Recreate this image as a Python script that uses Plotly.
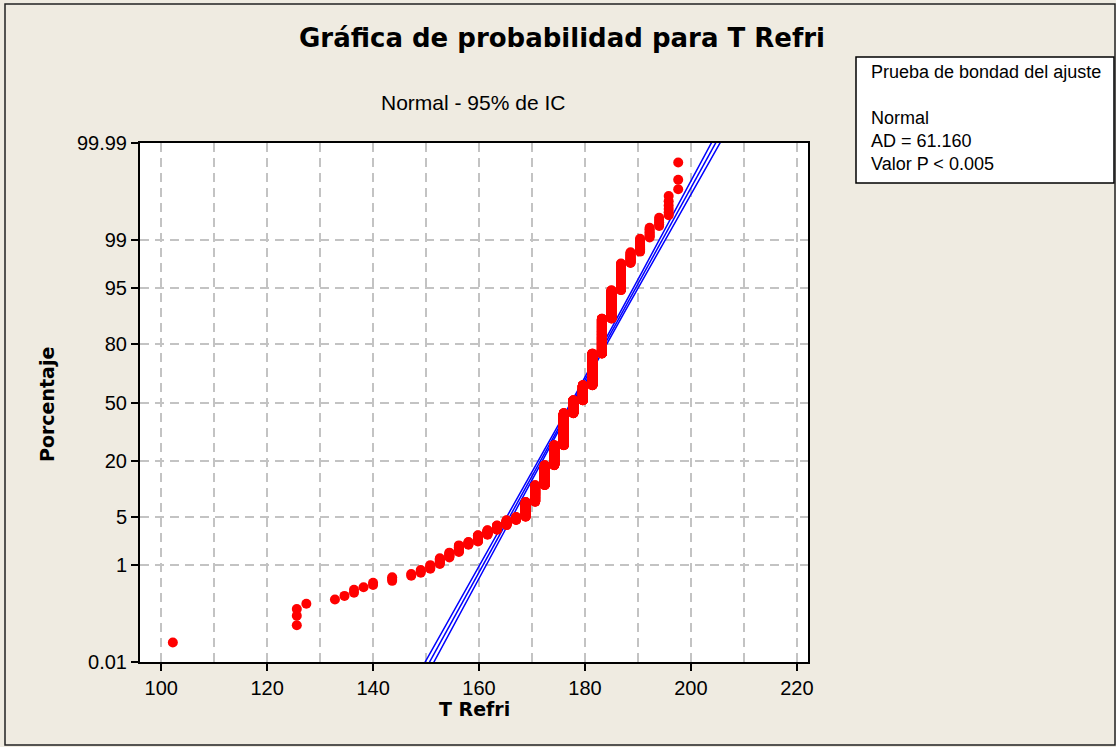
import math
from statistics import NormalDist
import plotly.graph_objects as go

# ---- data (T Refri distinct values and their frequencies) ----
t_values = [102.2, 125.6, 127.4, 132.8, 134.6, 136.4, 138.2, 140.0, 143.6, 147.2, 149.0,
            150.8, 152.6, 154.4, 156.2, 158.0, 159.8, 161.6, 163.4, 165.2, 167.0,
            168.8, 170.6, 172.4, 174.2, 176.0, 177.8, 179.6, 181.4, 183.2, 185.0,
            186.8, 188.6, 190.4, 192.2, 194.0, 195.8, 197.6]
t_counts = [1, 3, 1, 1, 1, 2, 1, 2, 3, 2, 3,
            4, 7, 7, 11, 6, 14, 12, 13, 16, 11,
            64, 98, 159, 206, 405, 177, 204, 386, 305, 146,
            74, 18, 15, 8, 5, 6, 3]
prob_ticks = [0.01, 1, 5, 20, 50, 80, 95, 99, 99.99]
prob_labels = ["0.01", "1", "5", "20", "50", "80", "95", "99", "99.99"]
x_ticks = [100, 120, 140, 160, 180, 200, 220]
ad_value = "61.160"
p_text = "< 0.005"
conf_level = 0.95

nd = NormalDist()

# expand data and compute Minitab median-rank plotting positions
data = []
for v, c in zip(t_values, t_counts):
    data.extend([v] * c)
data.sort()
n = len(data)
zs = [nd.inv_cdf((i - 0.3) / (n + 0.4)) for i in range(1, n + 1)]

mu = sum(data) / n
sigma = math.sqrt(sum((d - mu) ** 2 for d in data) / (n - 1))
zc = nd.inv_cdf(1 - (1 - conf_level) / 2)

zmax = nd.inv_cdf(0.9999)
zgrid = [-4.0 + 8.0 * k / 200 for k in range(201)]
fit_x = [mu + sigma * z for z in zgrid]
half = [zc * sigma * math.sqrt(1.0 / n + z * z / (2.0 * n)) for z in zgrid]
lo_x = [f - h for f, h in zip(fit_x, half)]
hi_x = [f + h for f, h in zip(fit_x, half)]

BLUE = "#0000FF"
RED = "#FF0000"
BG = "#EFEBE1"
GRID = "#C3C3C3"
REG = "Liberation Sans, Arial, sans-serif"
BOLD = "DejaVu Sans, Verdana, sans-serif"

fig = go.Figure()
for xs in (lo_x, fit_x, hi_x):
    fig.add_trace(go.Scatter(x=xs, y=zgrid, mode="lines",
                             line=dict(color=BLUE, width=1.5),
                             hoverinfo="skip", showlegend=False))
fig.add_trace(go.Scatter(x=data, y=zs, mode="markers",
                         marker=dict(color=RED, size=10, line=dict(width=0)),
                         showlegend=False))

# plot area in pixels
L, R, T, B = 140, 808, 143, 662
W, H = 1116, 747


def px(xp):
    return (xp - L) / (R - L)


def py(yp):
    return (B - yp) / (B - T)


fig.update_layout(
    width=W, height=H,
    margin=dict(l=L, r=W - R, t=T, b=H - B, pad=0),
    paper_bgcolor=BG, plot_bgcolor="white",
    showlegend=False,
    font=dict(family=REG, color="black", size=18),
)
fig.update_xaxes(
    range=[96, 222.1], tickvals=x_ticks, ticktext=[str(v) for v in x_ticks],
    showline=True, mirror=True, linecolor="black", linewidth=2,
    ticks="outside", ticklen=7, tickwidth=1.5, tickcolor="black",
    tickfont=dict(family=REG, size=20),
    showgrid=True, gridcolor=GRID, gridwidth=1.5, griddash="9px,6px",
    minor=dict(dtick=10, tick0=100, showgrid=True, gridcolor=GRID,
               gridwidth=1.5, griddash="9px,6px", ticks=""),
    zeroline=False,
)
fig.update_yaxes(
    range=[-zmax, zmax],
    tickvals=[nd.inv_cdf(p / 100.0) for p in prob_ticks], ticktext=prob_labels,
    showline=True, mirror=True, linecolor="black", linewidth=2,
    ticks="outside", ticklen=7, tickwidth=1.5, tickcolor="black",
    tickfont=dict(family=REG, size=20),
    showgrid=True, gridcolor=GRID, gridwidth=1.5, griddash="9px,6px",
    zeroline=False,
)

ann = []
ann.append(dict(text="<b>Gráfica de probabilidad para T Refri</b>", x=px(562), y=py(38),
                xref="paper", yref="paper", showarrow=False, xanchor="center", yanchor="middle",
                font=dict(family=BOLD, size=26)))
ann.append(dict(text="Normal - 95% de IC", x=px(473), y=py(103),
                xref="paper", yref="paper", showarrow=False, xanchor="center", yanchor="middle",
                font=dict(family=REG, size=21)))
ann.append(dict(text="<b>T Refri</b>", x=px(474), y=py(709),
                xref="paper", yref="paper", showarrow=False, xanchor="center", yanchor="middle",
                font=dict(family=BOLD, size=19)))
ann.append(dict(text="<b>Porcentaje</b>", x=px(47), y=py(405), textangle=-90,
                xref="paper", yref="paper", showarrow=False, xanchor="center", yanchor="middle",
                font=dict(family=BOLD, size=19)))
box_lines = [("Prueba de bondad del ajuste", 72), ("Normal", 118),
             ("AD = " + ad_value, 141), ("Valor P " + p_text, 164)]
for txt, yy in box_lines:
    ann.append(dict(text=txt, x=px(869), y=py(yy), xref="paper", yref="paper",
                    showarrow=False, xanchor="left", yanchor="middle",
                    font=dict(family=REG, size=18)))
fig.update_layout(annotations=ann)

fig.update_layout(shapes=[
    dict(type="rect", xref="paper", yref="paper", x0=px(856), x1=px(1114), y0=py(183), y1=py(57),
         line=dict(color="black", width=1.5), fillcolor="white", layer="below"),
    dict(type="rect", xref="paper", yref="paper", x0=px(5), x1=px(1115), y0=py(745), y1=py(4),
         line=dict(color="#222222", width=1.5), fillcolor="rgba(0,0,0,0)", layer="below"),
])

fig.write_html("out.html")
